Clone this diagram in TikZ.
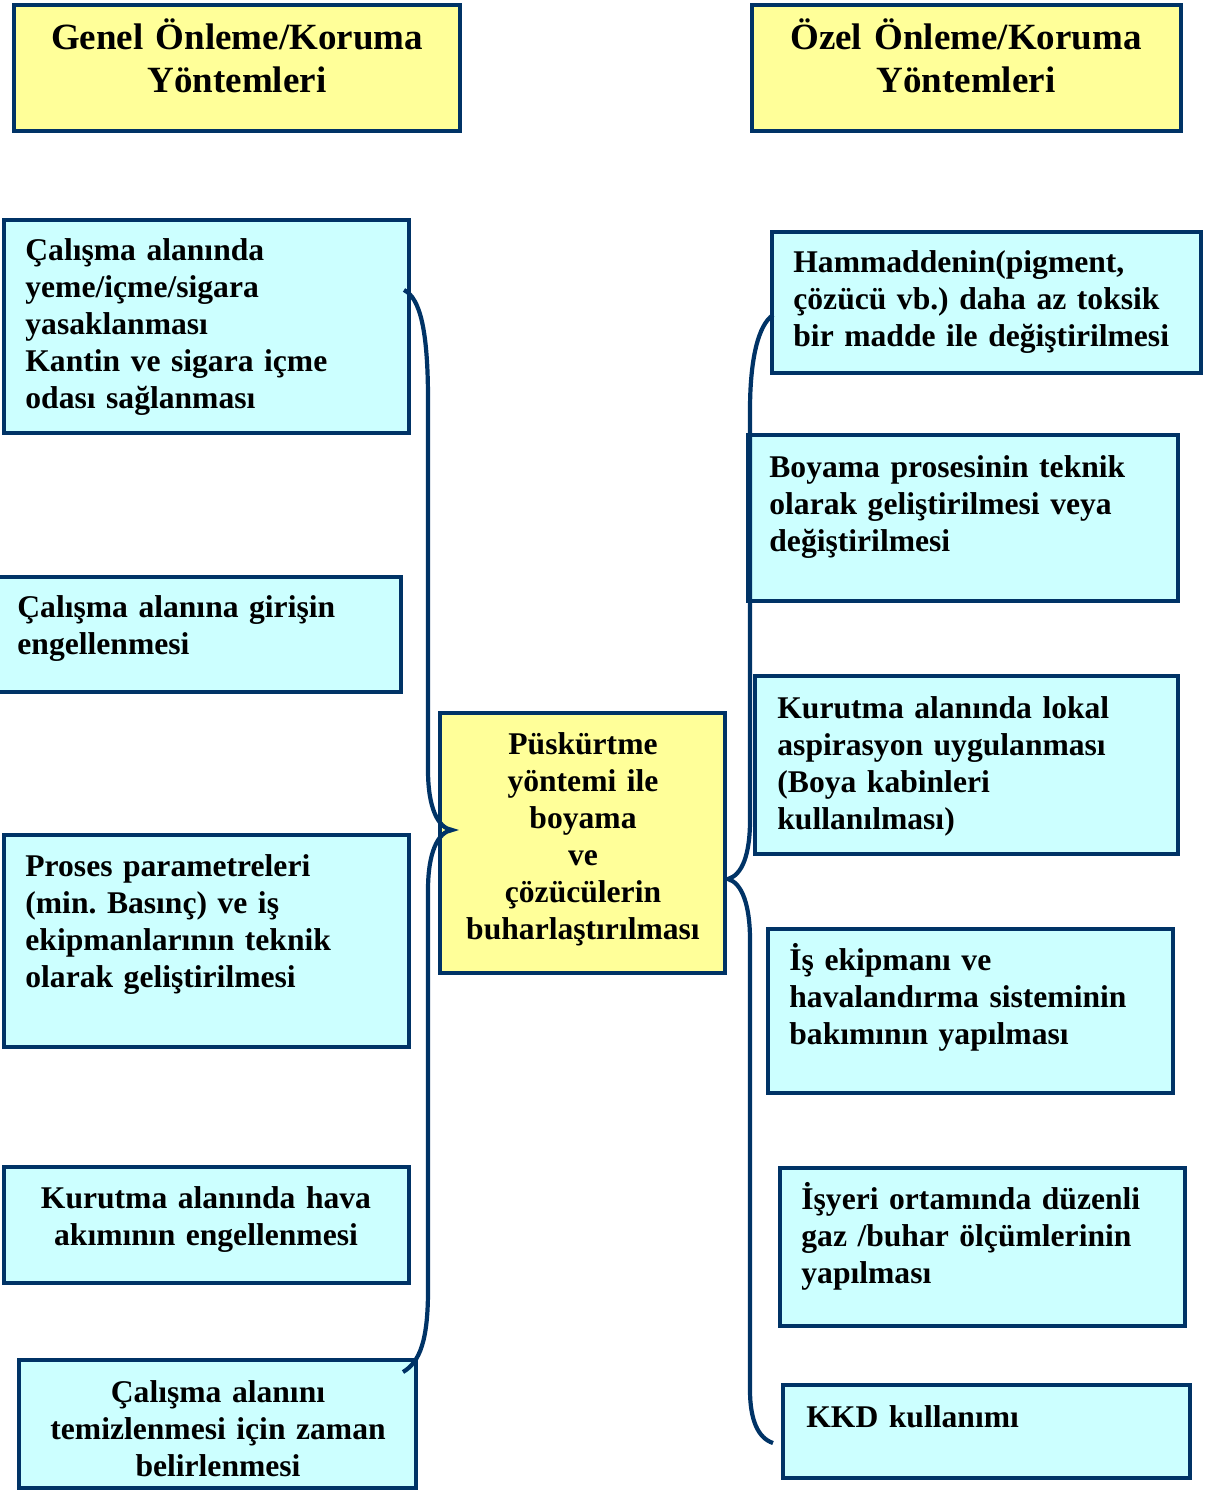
\documentclass[tikz,border=0pt]{standalone}
\usepackage{fontspec}
\setmainfont{Liberation Serif}
\usetikzlibrary{fit}
\definecolor{navy}{HTML}{003366}
\definecolor{cyanbox}{HTML}{CCFFFF}
\definecolor{yellowbox}{HTML}{FFFF99}
\frenchspacing
\begin{document}
\begin{tikzpicture}[x=0.5pt,y={(0pt,-0.5pt)},
  cbox/.style={draw=navy, line width=2.2pt, fill=cyanbox, inner sep=0pt},
  ybox/.style={draw=navy, line width=2.2pt, fill=yellowbox, inner sep=0pt},
  txt/.style={font=\bfseries\fontsize{15.8}{18.5}\selectfont, inner sep=0pt, text width=220pt, align=left, anchor=base west},
  ctxt/.style={font=\bfseries\fontsize{15.8}{18.5}\selectfont, inner sep=0pt, text width=200pt, align=center, anchor=base},
  htxt/.style={font=\bfseries\fontsize{18.5}{21.5}\selectfont, inner sep=0pt, text width=220pt, align=center, anchor=base},
  brace/.style={draw=navy, line width=2.1pt}]
\useasboundingbox (0,0) rectangle (1207,1492);
% box corners
\coordinate (hl1) at (14,5);   \coordinate (hl2) at (460,131);
\coordinate (hr1) at (752,5);  \coordinate (hr2) at (1181,131);
\coordinate (l11) at (4,220);  \coordinate (l12) at (409,433);
\coordinate (l21) at (-4,577); \coordinate (l22) at (401,692);
\coordinate (l31) at (4,835);  \coordinate (l32) at (409,1047);
\coordinate (l41) at (4,1167); \coordinate (l42) at (409,1283);
\coordinate (l51) at (19,1360); \coordinate (l52) at (416,1488);
\coordinate (c1) at (440,713); \coordinate (c2) at (725,973);
\coordinate (r11) at (772,232); \coordinate (r12) at (1201,373);
\coordinate (r21) at (748,435); \coordinate (r22) at (1178,601);
\coordinate (r31) at (755,676); \coordinate (r32) at (1178,854);
\coordinate (r41) at (768,929); \coordinate (r42) at (1173,1093);
\coordinate (r51) at (780,1168); \coordinate (r52) at (1185,1326);
\coordinate (r61) at (783,1385); \coordinate (r62) at (1190,1478);
% boxes
\node[ybox, fit=(hl1)(hl2)] (HL) {};
\node[ybox, fit=(hr1)(hr2)] (HR) {};
\node[cbox, fit=(l11)(l12)] (L1) {};
\node[cbox, fit=(l21)(l22)] (L2) {};
\node[cbox, fit=(l31)(l32)] (L3) {};
\node[cbox, fit=(l41)(l42)] (L4) {};
\node[cbox, fit=(l51)(l52)] (L5) {};
\node[ybox, fit=(c1)(c2)] (C) {};
\node[cbox, fit=(r11)(r12)] (R1) {};
\node[cbox, fit=(r21)(r22)] (R2) {};
\node[cbox, fit=(r31)(r32)] (R3) {};
\node[cbox, fit=(r41)(r42)] (R4) {};
\node[cbox, fit=(r51)(r52)] (R5) {};
\node[cbox, fit=(r61)(r62)] (R6) {};
% texts
\node[htxt] (HLt) at (237,50) {Genel Önleme/Koruma\\Yöntemleri};
\node[htxt] (HRt) at (966,50) {Özel Önleme/Koruma\\Yöntemleri};
\node[txt] (L1t) at (25,261) {Çalışma alanında\\yeme/içme/sigara\\yasaklanması\\Kantin ve sigara içme\\odası sağlanması};
\node[txt] (L2t) at (17,617) {Çalışma alanına girişin\\engellenmesi};
\node[txt] (L3t) at (25,876) {Proses parametreleri\\(min. Basınç) ve iş\\ekipmanlarının teknik\\olarak geliştirilmesi};
\node[ctxt] (L4t) at (206,1208) {Kurutma alanında hava\\akımının engellenmesi};
\node[ctxt] (L5t) at (218,1402) {Çalışma alanını\\temizlenmesi için zaman\\belirlenmesi};
\node[ctxt] (Ct) at (583,754) {Püskürtme\\yöntemi ile\\boyama\\ve\\çözücülerin\\buharlaştırılması};
\node[txt] (R1t) at (793,273) {Hammaddenin(pigment,\\çözücü vb.) daha az toksik\\bir madde ile değiştirilmesi};
\node[txt] (R2t) at (769,477) {Boyama prosesinin teknik\\olarak geliştirilmesi veya\\değiştirilmesi};
\node[txt] (R3t) at (777,718) {Kurutma alanında lokal\\aspirasyon uygulanması\\(Boya kabinleri\\kullanılması)};
\node[txt] (R4t) at (789,970) {İş ekipmanı ve\\havalandırma sisteminin\\bakımının yapılması};
\node[txt] (R5t) at (801,1209) {İşyeri ortamında düzenli\\gaz /buhar ölçümlerinin\\yapılması};
\node[txt] (R6t) at (806,1427) {KKD kullanımı};
% braces
\coordinate (lbtop) at (404,290);
\coordinate (lbtip) at (452,830);
\coordinate (lbbot) at (403,1372);
\coordinate (rbtop) at (773,315);
\coordinate (rbtip) at (728,879);
\coordinate (rbbot) at (773,1443);
\draw[brace] (lbtop) .. controls (420,298) and (428,330) .. (428,400)
  -- (428,770) .. controls (428,808) and (438,828) .. (lbtip)
  .. controls (438,832) and (428,852) .. (428,890)
  -- (428,1290) .. controls (428,1340) and (420,1362) .. (lbbot);
\draw[brace] (rbtop) .. controls (758,325) and (750,360) .. (750,410)
  -- (750,820) .. controls (750,855) and (742,875) .. (rbtip)
  .. controls (742,883) and (750,905) .. (750,940)
  -- (750,1390) .. controls (750,1420) and (758,1438) .. (rbbot);
\end{tikzpicture}
\end{document}
